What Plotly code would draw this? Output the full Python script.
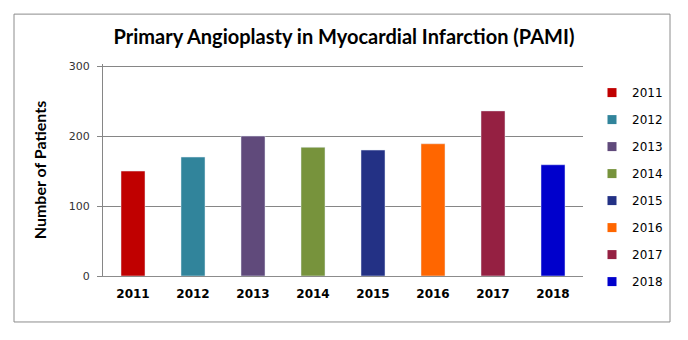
import plotly.graph_objects as go

years = ["2011", "2012", "2013", "2014", "2015", "2016", "2017", "2018"]
patients = [150, 170, 200, 184, 180, 189, 236, 159]
colors = ["#C00000", "#31849B", "#604A7B", "#77933C",
          "#233185", "#FF6600", "#952042", "#0000CC"]
y_ticks = [0, 100, 200, 300]

W, H = 688, 340
Y_MAX = 303  # a little headroom so the 300 gridline is drawn
L, R, B = 103, 105, 64
T = H - B - 210 * Y_MAX / 300
plot_w, plot_h = W - L - R, H - T - B

fig = go.Figure()
for yr, val, col in zip(years, patients, colors):
    fig.add_trace(go.Bar(
        x=[yr], y=[val], name=yr, marker_color=col, width=0.4,
        showlegend=False, hoverinfo="x+y",
    ))
    # compact square swatch for the legend
    fig.add_trace(go.Scatter(
        x=[None], y=[None], mode="markers", name=yr, legendgroup=yr,
        marker=dict(symbol="square", size=9, color=col),
    ))

# outer frame around the whole chart
fig.add_shape(
    type="rect", xref="paper", yref="paper",
    x0=(14 - L) / plot_w, x1=(670 - L) / plot_w,
    y0=(H - B - 322) / plot_h, y1=(H - B - 14) / plot_h,
    line=dict(color="#8c8c8c", width=1), fillcolor="rgba(0,0,0,0)",
)

fig.update_layout(
    width=W, height=H,
    margin=dict(l=L, r=R, t=T, b=B),
    paper_bgcolor="white", plot_bgcolor="white",
    barmode="overlay",
    title=dict(
        text="<b>Primary Angioplasty in Myocardial Infarction (PAMI)</b>",
        x=0.5, xref="container", y=1 - 37 / H, yref="container",
        xanchor="center", yanchor="middle",
        font=dict(family="Lato", size=20, color="#000000"),
    ),
    xaxis=dict(
        categoryorder="array", categoryarray=years,
        showgrid=False, showline=True, linecolor="#8c8c8c", linewidth=1,
        ticks="", tickfont=dict(family="DejaVu Sans", size=12, color="#000000"),
        tickprefix="<b>", ticksuffix="</b>", ticklabelstandoff=7,
    ),
    yaxis=dict(
        range=[0, Y_MAX], tickvals=y_ticks,
        showgrid=True, gridcolor="#868686", gridwidth=1,
        showline=True, linecolor="#868686", linewidth=1,
        ticks="outside", ticklen=5, tickcolor="#868686",
        tickfont=dict(family="DejaVu Sans", size=11, color="#333333"),
        ticklabelstandoff=5,
        zeroline=False,
        title=dict(text="<b>Number of Patients</b>", standoff=18,
                   font=dict(family="Lato", size=16, color="#000000")),
    ),
    legend=dict(
        x=1 + (592 - L - plot_w) / plot_w, xanchor="left",
        y=1 - (78 - T) / plot_h, yanchor="top",
        font=dict(family="DejaVu Sans", size=12, color="#000000"),
        tracegroupgap=8, itemwidth=30, maxheight=320,
        bgcolor="rgba(0,0,0,0)",
    ),
)

fig.write_html("out.html")
